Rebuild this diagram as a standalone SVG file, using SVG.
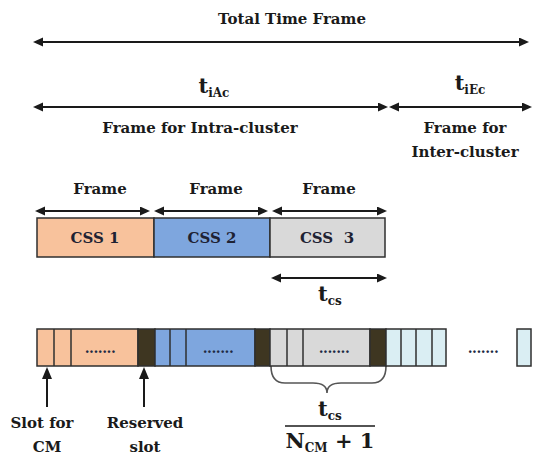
<svg xmlns="http://www.w3.org/2000/svg" width="534" height="457" viewBox="0 0 534 457">
<defs>
<style>
.t{font-family:"DejaVu Serif","Liberation Serif",serif;font-weight:bold;font-size:15px;fill:#1a1a1a;text-anchor:middle}
.m{font-family:"DejaVu Serif","Liberation Serif",serif;font-weight:bold;font-size:21px;fill:#1a1a1a;text-anchor:middle}
.sub{font-size:12px}
.css{font-family:"DejaVu Serif","Liberation Serif",serif;font-weight:bold;font-size:15px;fill:#1e2233;text-anchor:middle;white-space:pre}
.dots{font-family:"DejaVu Serif",serif;font-weight:bold;font-size:14px;fill:#1e2a44;text-anchor:middle;letter-spacing:-0.5px}
.arr{stroke:#1a1a1a;stroke-width:2;fill:none;marker-start:url(#ah);marker-end:url(#ah)}
.up{stroke:#1a1a1a;stroke-width:2;fill:none;marker-end:url(#ah2)}
.box{stroke:#2f2f2f;stroke-width:1.5}
.div{stroke:#2f2f2f;stroke-width:1.5}
.or{fill:#F8C29C}.bl{fill:#7EA6DE}.gr{fill:#D9D9D9}.lb{fill:#DAEEF3}.dk{fill:#3E3621}
</style>
<marker id="ah" markerUnits="userSpaceOnUse" markerWidth="11" markerHeight="10" refX="6" refY="4.5" orient="auto-start-reverse">
<path d="M0,0 L10,4.5 L0,9 z" fill="#1a1a1a"/>
</marker>
<marker id="ah2" markerUnits="userSpaceOnUse" markerWidth="13" markerHeight="11" refX="7" refY="5" orient="auto">
<path d="M0,0 L12,5 L0,10 z" fill="#1a1a1a"/>
</marker>
</defs>
<rect width="534" height="457" fill="#ffffff"/>

<g id="connectors">
<line class="arr" x1="37" y1="42" x2="525" y2="42"/>
<line class="arr" x1="37" y1="107" x2="384" y2="107"/>
<line class="arr" x1="393" y1="107" x2="528" y2="107"/>
<line class="arr" x1="39" y1="211" x2="146" y2="211"/>
<line class="arr" x1="158" y1="211" x2="264" y2="211"/>
<line class="arr" x1="276" y1="211" x2="383" y2="211"/>
<line class="arr" x1="275" y1="278" x2="383" y2="278"/>
<line class="up" x1="47" y1="407" x2="47" y2="372"/>
<line class="up" x1="144" y1="407" x2="144" y2="372"/>
<path d="M271,366 Q271,383 285,383 L313,383 Q327,383 327,393 Q327,383 341,383 L372,383 Q386,383 386,366" fill="none" stroke="#555" stroke-width="1.6"/>
<line x1="285" y1="426" x2="375" y2="426" stroke="#1a1a1a" stroke-width="1.6"/>
</g>

<g id="total-frame">
<text class="t" x="292" y="24">Total Time Frame</text>
</g>
<g id="t-iAc">
<text class="m" x="214" y="93">t<tspan class="sub" dy="4">iAc</tspan></text>
<text class="t" x="200" y="133">Frame for Intra-cluster</text>
</g>
<g id="t-iEc">
<text class="m" x="470" y="90">t<tspan class="sub" dy="4">iEc</tspan></text>
<text class="t" x="465" y="133">Frame for</text>
<text class="t" x="465" y="157">Inter-cluster</text>
</g>

<g id="frame-labels">
<text class="t" x="100" y="194">Frame</text>
<text class="t" x="216" y="194">Frame</text>
<text class="t" x="329" y="194">Frame</text>
</g>

<g id="css1">
<rect class="box or" x="37" y="218" width="117" height="39"/>
<text class="css" x="95" y="243">CSS 1</text>
</g>
<g id="css2">
<rect class="box bl" x="154" y="218" width="116" height="39"/>
<text class="css" x="212" y="243">CSS 2</text>
</g>
<g id="css3">
<rect class="box gr" x="270" y="218" width="115" height="39"/>
<text class="css" x="327" y="243">CSS  3</text>
</g>

<g id="tcs">
<text class="m" x="330" y="301">t<tspan class="sub" dy="4">cs</tspan></text>
</g>

<g id="slots">
<rect class="box or" x="37" y="329" width="101" height="37"/>
<line class="div" x1="54" y1="329" x2="54" y2="366"/>
<line class="div" x1="71" y1="329" x2="71" y2="366"/>
<text class="dots" x="100" y="353">.......</text>
<rect class="box dk" x="138" y="329" width="17" height="37"/>
<rect class="box bl" x="155" y="329" width="100" height="37"/>
<line class="div" x1="170" y1="329" x2="170" y2="366"/>
<line class="div" x1="186" y1="329" x2="186" y2="366"/>
<text class="dots" x="218" y="353">.......</text>
<rect class="box dk" x="255" y="329" width="15" height="37"/>
<rect class="box gr" x="270" y="329" width="100" height="37"/>
<line class="div" x1="287" y1="329" x2="287" y2="366"/>
<line class="div" x1="303" y1="329" x2="303" y2="366"/>
<text class="dots" x="334" y="353">.......</text>
<rect class="box dk" x="370" y="329" width="16" height="37"/>
<rect class="box lb" x="386" y="329" width="60" height="37"/>
<line class="div" x1="401" y1="329" x2="401" y2="366"/>
<line class="div" x1="416" y1="329" x2="416" y2="366"/>
<line class="div" x1="432" y1="329" x2="432" y2="366"/>
<text class="dots" x="483" y="353">.......</text>
<rect class="box lb" x="517" y="329" width="14" height="37"/>
</g>

<g id="slot-for-cm">
<text class="t" x="42" y="428">Slot for</text>
<text class="t" x="47" y="452">CM</text>
</g>
<g id="reserved-slot">
<text class="t" x="145" y="428">Reserved</text>
<text class="t" x="145" y="452">slot</text>
</g>
<g id="fraction">
<text class="m" x="330" y="416">t<tspan class="sub" dy="4">cs</tspan></text>
<text class="m" x="330" y="448">N<tspan class="sub" dy="4">CM</tspan><tspan dy="-4"> + 1</tspan></text>
</g>
</svg>
